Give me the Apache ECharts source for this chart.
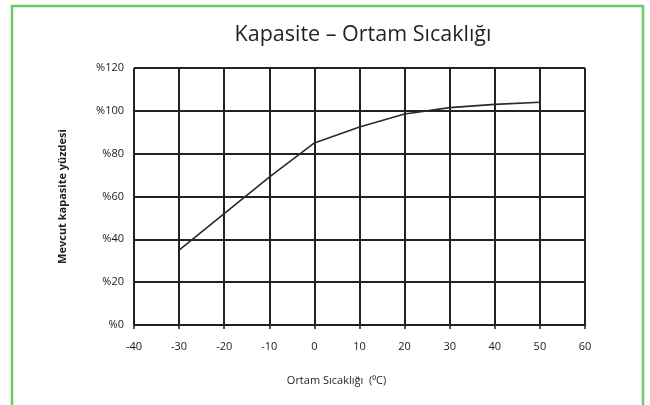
<!DOCTYPE html>
<html>
<head>
<meta charset="utf-8">
<script src="https://cdn.jsdelivr.net/npm/echarts@6/dist/echarts.min.js"></script>
<style>
  html, body { margin: 0; padding: 0; background: #fff; }
  #chart { width: 650px; height: 405px; }
</style>
</head>
<body>
<div id="chart"></div>
<script>
// veriler (grafikten okunan yaklaşık değerler)
const sicaklik = [-30, -20, -10, 0, 10, 20, 30, 40, 50];
const kapasite = [35, 52, 69, 85, 92.5, 98.5, 101.5, 103, 104];
const yTicks = [0, 20, 40, 60, 80, 100, 120];

const font = '"Open Sans", "Noto Sans", sans-serif';
const chart = echarts.init(document.getElementById('chart'));

const option = {
  animation: false,
  backgroundColor: '#fff',
  title: {
    text: 'Kapasite – Ortam Sıcaklığı',
    left: 363,
    textAlign: 'center',
    top: 24,
    padding: 0,
    textStyle: { fontFamily: font, fontSize: 21.5, fontWeight: 'normal', color: '#231f20' }
  },
  graphic: [{
    type: 'rect',
    shape: { x: 12, y: 6, width: 631, height: 420 },
    style: { fill: 'none', stroke: '#6cc96c', lineWidth: 2.5 },
    silent: true
  }],
  grid: { left: 134, right: 65, top: 68, bottom: 80 },
  xAxis: {
    type: 'value',
    min: -40,
    max: 60,
    interval: 10,
    name: 'Ortam Sıcaklığı  (⁰C)',
    nameLocation: 'middle',
    nameGap: 50,
    nameTextStyle: { fontFamily: font, fontSize: 11, color: '#231f20', padding: [0, 46, 0, 0] },
    axisLine: { show: true, lineStyle: { color: '#222', width: 2 } },
    axisTick: { show: true, length: 4, lineStyle: { color: '#222', width: 1.5 } },
    axisLabel: { margin: 16, fontFamily: font, fontSize: 11, color: '#1a1a1a' },
    splitLine: { show: true, lineStyle: { color: '#222', width: 2 } }
  },
  yAxis: {
    type: 'value',
    min: 0,
    max: 120,
    interval: 20,
    name: 'Mevcut kapasite yüzdesi',
    nameLocation: 'middle',
    nameGap: 66,
    nameTextStyle: { fontFamily: font, fontSize: 11, fontWeight: 'bold', color: '#231f20' },
    axisLine: { show: true, lineStyle: { color: '#222', width: 2 } },
    axisTick: { show: true, length: 8, lineStyle: { color: '#222', width: 2 } },
    axisLabel: {
      margin: 10,
      fontFamily: font,
      fontSize: 11,
      color: '#1a1a1a',
      formatter: v => yTicks.includes(v) ? '%' + v : ''
    },
    splitLine: { show: true, lineStyle: { color: '#222', width: 2 } }
  },
  series: [{
    type: 'line',
    data: sicaklik.map((x, i) => [x, kapasite[i]]),
    showSymbol: false,
    lineStyle: { color: '#2a2a2a', width: 1.6 }
  }]
};

chart.setOption(option);
</script>
</body>
</html>
